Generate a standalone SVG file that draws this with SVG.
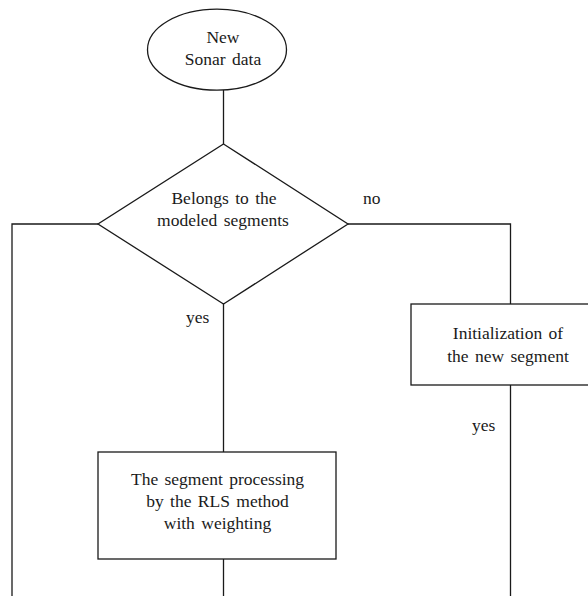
<svg xmlns="http://www.w3.org/2000/svg" width="588" height="596" viewBox="0 0 588 596">
<style>
.s{fill:#fff;stroke:#1a1a1a;stroke-width:1.3}
.c{fill:none;stroke:#1a1a1a;stroke-width:1.3}
text{font-family:"Times New Roman",Times,"Liberation Serif",Tinos,"Nimbus Roman","Nimbus Roman No9 L",FreeSerif,"Noto Serif","DejaVu Serif",serif;font-size:17.5px;fill:#1a1a1a;word-spacing:2px}
.m{text-anchor:middle}
</style>
<rect width="588" height="596" fill="#fff"/>
<g id="connectors">
<line class="c" x1="223.5" y1="90" x2="223.5" y2="144"/>
<polyline class="c" points="98,224 12,224 12,596"/>
<polyline class="c" points="348,224 510.5,224 510.5,304"/>
<line class="c" x1="510.5" y1="385" x2="510.5" y2="596"/>
<line class="c" x1="223.5" y1="304" x2="223.5" y2="452"/>
<line class="c" x1="223.5" y1="559" x2="223.5" y2="596"/>
<text x="363" y="204">no</text>
<text x="186" y="323">yes</text>
<text x="472" y="431">yes</text>
</g>
<g id="start">
<ellipse class="s" cx="217" cy="49.7" rx="69.5" ry="40.5"/>
<text class="m" x="223" y="43">New</text>
<text class="m" x="223" y="65">Sonar data</text>
</g>
<g id="decision">
<polygon class="s" points="223.5,144 348,224 223.5,304 98,224"/>
<text class="m" x="224" y="204">Belongs to the</text>
<text class="m" x="223" y="226">modeled segments</text>
</g>
<g id="init">
<rect class="s" x="411" y="304" width="200" height="81"/>
<text class="m" x="508" y="339">Initialization of</text>
<text class="m" x="508" y="362">the new segment</text>
</g>
<g id="process">
<rect class="s" x="98" y="452" width="238" height="107"/>
<text class="m" x="217.5" y="485">The segment processing</text>
<text class="m" x="217.5" y="507">by the RLS method</text>
<text class="m" x="217.5" y="529">with weighting</text>
</g>
</svg>
